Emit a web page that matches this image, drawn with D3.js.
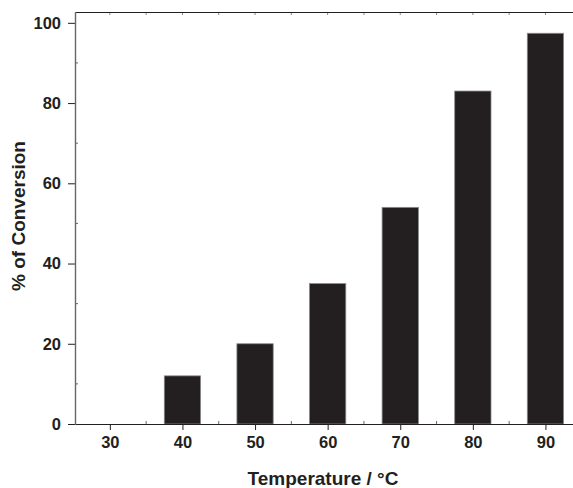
<!DOCTYPE html>
<html>
<head>
<meta charset="utf-8">
<script src="https://cdn.jsdelivr.net/npm/d3@7"></script>
<style>
  body { margin: 0; background: #fff; }
  text { font-family: "Liberation Sans", Arial, sans-serif; font-weight: bold; fill: #231f20; }
</style>
</head>
<body>
<div id="plot"></div>
<script>
let temps = [30, 40, 50, 60, 70, 80, 90];
let conversion = [0, 12, 20, 35, 54, 83, 97.4];
let yTicks = [0, 20, 40, 60, 80, 100];

let W = 573, H = 488;
let margin = { top: 12, left: 75 },
    bottom = 424;

let svg = d3.select('#plot')
    .append('svg')
        .attr('width', W)
        .attr('height', H);

let x = d3.scaleLinear()
    .domain([25.2, 95])
    .range([margin.left, margin.left + 69.8 * 7.26]);

let y = d3.scaleLinear()
    .domain([0, 102.7])
    .range([bottom, margin.top]);

let ink = '#231f20';

// bars
svg.selectAll('.bar')
    .data(temps)
    .enter()
    .append('rect')
        .attr('x', (d) => x(d - 2.5))
        .attr('width', x(5) - x(0))
        .attr('y', (d, i) => y(conversion[i]))
        .attr('height', (d, i) => bottom - y(conversion[i]))
        .attr('fill', ink)
        .attr('stroke', '#8a8a8a')
        .attr('stroke-width', 0.8);

// bottom axis
let xAxis = d3.axisBottom(x)
    .tickValues(temps)
    .tickSize(6)
    .tickPadding(6)
    .tickFormat(d3.format('d'));

let gx = svg.append('g')
    .attr('transform', 'translate(0,' + bottom + ')')
    .call(xAxis);
gx.select('.domain').remove();
gx.selectAll('text').style('font-size', '16.5px');

// minor ticks bottom (inside)
svg.selectAll('.xminor')
    .data(temps.map(d => d + 5))
    .enter()
    .append('line')
        .attr('x1', d => x(d)).attr('x2', d => x(d))
        .attr('y1', bottom).attr('y2', bottom - 3)
        .attr('stroke', '#666');

// top frame with small ticks
svg.selectAll('.xtop')
    .data(temps.concat(temps.map(d => d + 5)))
    .enter()
    .append('line')
        .attr('x1', d => x(d)).attr('x2', d => x(d))
        .attr('y1', margin.top).attr('y2', margin.top + 3)
        .attr('stroke', '#888');

svg.append('line')
    .attr('x1', margin.left).attr('x2', W)
    .attr('y1', margin.top + 0.5).attr('y2', margin.top + 0.5)
    .attr('stroke', ink).attr('stroke-width', 1.2);

svg.append('line')
    .attr('x1', margin.left).attr('x2', W)
    .attr('y1', bottom + 0.5).attr('y2', bottom + 0.5)
    .attr('stroke', ink).attr('stroke-width', 1.2);

// left axis
let yAxis = d3.axisLeft(y)
    .tickValues(yTicks)
    .tickSize(7)
    .tickPadding(7);

let gy = svg.append('g')
    .attr('transform', 'translate(' + margin.left + ',0)')
    .call(yAxis);
gy.select('.domain').remove();
gy.selectAll('text').style('font-size', '16.5px');

svg.selectAll('.yminor')
    .data(yTicks.slice(0, -1).map(d => d + 10))
    .enter()
    .append('line')
        .attr('x1', margin.left).attr('x2', margin.left + 3)
        .attr('y1', d => y(d)).attr('y2', d => y(d))
        .attr('stroke', '#666');

svg.append('line')
    .attr('x1', margin.left + 0.5).attr('x2', margin.left + 0.5)
    .attr('y1', margin.top).attr('y2', bottom + 1)
    .attr('stroke', '#666').attr('stroke-width', 1.4);

svg.selectAll('.tick line').attr('stroke', ink);

// axis titles
svg.append('text')
    .attr('transform', 'translate(' + 25 + ',' + 216 + ') rotate(-90)')
    .style('text-anchor', 'middle')
    .style('font-size', '19px')
    .text('% of Conversion');

svg.append('text')
    .attr('x', 323)
    .attr('y', 485)
    .style('text-anchor', 'middle')
    .style('font-size', '19px')
    .text('Temperature / °C');
</script>
</body>
</html>
